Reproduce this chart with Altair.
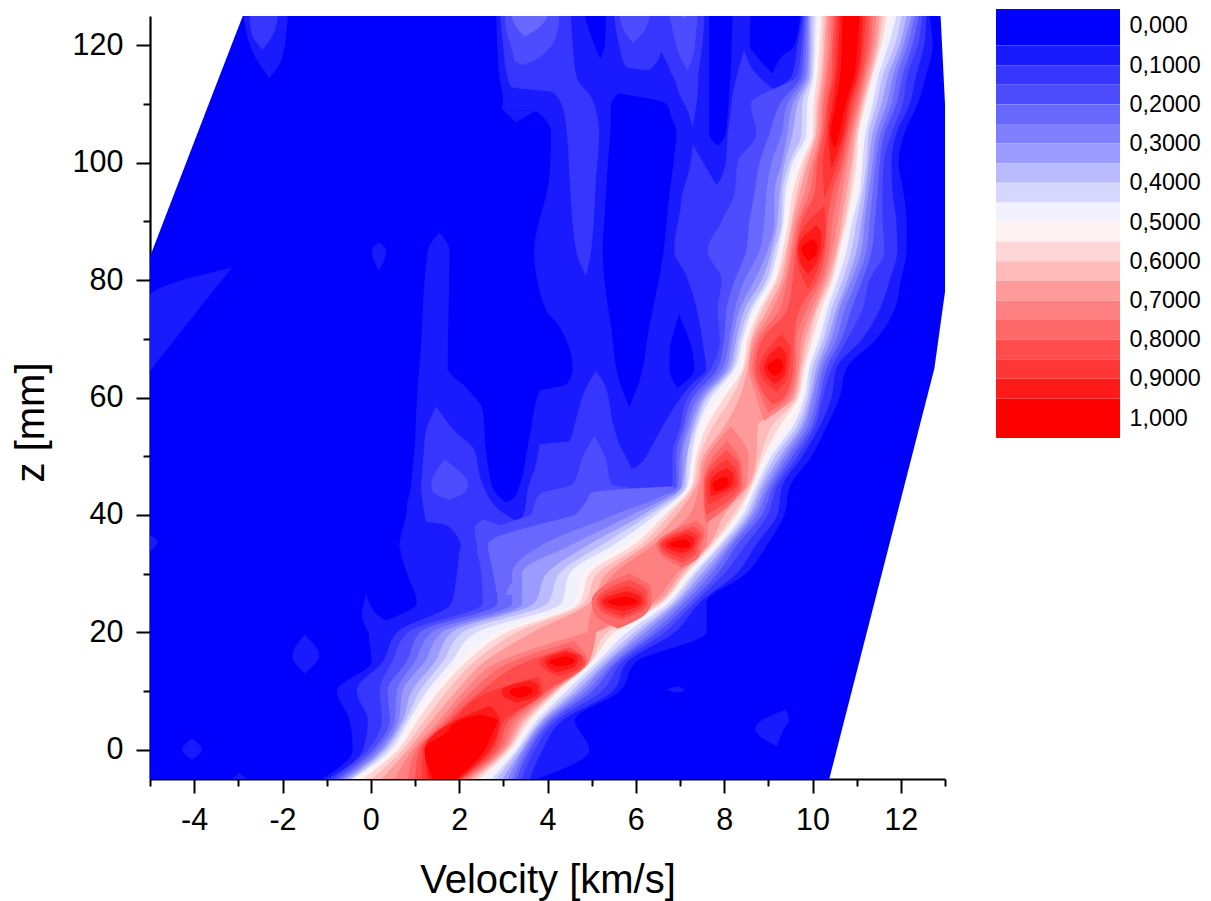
import altair as alt
import pandas as pd

FONT = "Liberation Sans"
COLORS = ["#0000ff", "#1a1aff", "#3636ff", "#4d4dff", "#6868ff", "#8080ff", "#9a9aff", "#babaff",
          "#d6d6ff", "#f2f2ff", "#fff2f2", "#ffd6d6", "#ffbaba", "#ff9a9a", "#ff8080", "#ff6868",
          "#ff4d4d", "#ff3636", "#ff1a1a", "#ff0000"]
LEGEND_EDGES = [-0.0434, 0.05, 0.10, 0.15, 0.20, 0.25, 0.30, 0.35, 0.40, 0.45, 0.50,
                0.55, 0.60, 0.65, 0.70, 0.75, 0.80, 0.85, 0.90, 0.95, 1.051]
LEGEND_DOMAIN = [-0.0255, 1.051]

# measured outline of the data domain: z, lower velocity, upper velocity
DOMAIN_Z = [-5, 65, 78, 84, 110, 125]
DOMAIN_LO = [-5, -5, -5, -5, -3.67, -2.9]
DOMAIN_HI = [10.38, 12.76, 13, 13, 13, 12.9]

# z rows of the ridge contours
Z_ROWS = [-5, 0, 5, 10, 15, 20, 25, 30, 35, 40, 45, 50, 55, 60, 65, 70, 75, 80, 85, 90, 95, 100, 105, 110, 115, 120, 125]

# contour velocity on the low side of the ridge; key = contour level index (level = index * 0.05)
RIDGE_LOW = {
 3: [-.86,-.07,.25,.2,.48,.84,2.53,2.5,2.4,3.64,6.83,6.83,7.0,7.17,7.71,7.9,7.85,7.94,7.62,7.94,8.24,8.3,8.73,8.6,9.66,9.75,9.8],
 4: [-.75,.05,.43,.38,.81,1.11,2.87,2.77,2.65,4.61,6.92,6.92,7.08,7.29,7.85,8.0,8.05,8.24,8.5,8.57,8.69,8.8,9.03,9.26,9.75,9.8,9.84],
 5: [-.66,.14,.54,.59,1.0,1.38,3.2,3.2,3.9,5.5,6.97,7.0,7.15,7.4,7.96,8.12,8.24,8.46,8.8,8.91,8.96,9.07,9.3,9.43,9.82,9.86,9.89],
 6: [-.59,.23,.63,.72,1.22,1.61,3.43,3.42,4.57,5.9,7.04,7.06,7.22,7.49,8.05,8.19,8.35,8.69,8.98,9.14,9.14,9.3,9.43,9.55,9.88,9.91,9.91],
 7: [-.52,.29,.72,.93,1.45,1.83,3.7,3.98,4.95,6.15,7.06,7.15,7.29,7.56,8.12,8.28,8.46,8.85,9.07,9.21,9.26,9.37,9.55,9.66,9.93,9.95,9.95],
 8: [-.43,.36,.79,1.11,1.63,2.08,4.0,4.27,5.25,6.3,7.13,7.17,7.35,7.62,8.19,8.35,8.57,8.96,9.14,9.3,9.32,9.48,9.75,9.77,9.98,10.0,10.0],
 9: [-.41,.45,.86,1.27,1.83,2.4,4.32,4.5,5.52,6.45,7.17,7.26,7.4,7.71,8.24,8.42,8.64,9.03,9.21,9.34,9.39,9.55,9.86,9.88,10.02,10.05,10.07],
 10: [-.32,.52,.95,1.40,2.01,2.85,4.62,4.8,5.79,6.6,7.22,7.3,7.49,7.85,8.35,8.46,8.73,9.1,9.28,9.4,9.46,9.66,9.98,9.98,10.07,10.09,10.14],
 11: [-.18,.61,1.06,1.55,2.17,3.07,4.72,4.95,5.97,6.65,7.26,7.37,7.6,8.0,8.42,8.53,8.8,9.16,9.32,9.45,9.55,9.75,10.0,10.02,10.11,10.16,10.2],
 12: [.02,.72,1.22,1.73,2.35,3.3,4.83,5.13,6.13,6.76,7.3,7.44,7.74,8.17,8.46,8.6,8.87,9.21,9.39,9.52,9.64,9.82,10.05,10.09,10.18,10.23,10.25],
 13: [.25,.84,1.38,1.94,2.58,3.66,4.95,5.33,6.27,6.92,7.37,7.53,8.0,8.35,8.53,8.64,8.98,9.3,9.43,9.55,9.71,9.89,10.09,10.14,10.23,10.27,10.31],
}
# contour velocity on the high side of the ridge
RIDGE_HIGH = {
 1: [3.76,4.95,4.62,5.64,6.02,7.6,7.6,8.5,8.98,9.36,9.5,9.98,10.32,10.61,10.77,11.45,11.86,12.0,12.13,12.13,12.06,11.95,12.08,12.38,12.58,12.72,12.65],
 2: [3.6,3.89,4.34,5.48,5.82,6.88,7.44,8.28,8.73,9.2,9.32,9.77,10.16,10.43,10.54,11.13,11.52,11.75,11.92,11.9,11.81,11.79,11.9,12.2,12.35,12.53,12.58],
 3: [3.42,3.71,4.21,5.23,5.7,6.65,7.33,8.0,8.5,8.98,9.21,9.66,10.05,10.23,10.43,10.79,11.13,11.29,11.63,11.59,11.59,11.61,11.79,12.04,12.15,12.38,12.49],
 4: [3.3,3.6,4.1,5.02,5.59,6.49,7.22,7.85,8.3,8.85,9.12,9.55,9.98,10.16,10.32,10.66,10.88,11.13,11.34,11.41,11.47,11.52,11.63,11.9,12.04,12.26,12.4],
 5: [3.21,3.53,4.03,4.89,5.52,6.36,7.1,7.71,8.19,8.73,9.03,9.45,9.89,10.09,10.23,10.54,10.73,11.0,11.22,11.29,11.36,11.43,11.54,11.79,11.92,12.15,12.31],
 6: [3.1,3.46,3.96,4.77,5.41,6.22,6.99,7.6,8.12,8.64,8.96,9.36,9.8,10.0,10.16,10.43,10.61,10.88,11.11,11.18,11.27,11.36,11.45,11.68,11.83,12.06,12.24],
 7: [2.98,3.42,3.89,4.66,5.34,6.09,6.9,7.49,8.05,8.57,8.87,9.27,9.73,9.95,10.09,10.34,10.54,10.79,11.0,11.11,11.2,11.27,11.36,11.56,11.72,11.97,12.13],
 8: [2.84,3.35,3.84,4.55,5.23,5.97,6.83,7.37,7.96,8.5,8.8,9.16,9.64,9.89,10.0,10.25,10.43,10.68,10.88,11.0,11.13,11.22,11.27,11.45,11.6,11.86,12.02],
 9: [2.73,3.3,3.76,4.43,5.14,5.81,6.74,7.3,7.9,8.42,8.73,9.07,9.55,9.82,9.93,10.16,10.34,10.57,10.77,10.9,11.07,11.13,11.2,11.36,11.5,11.72,11.9],
 10: [2.53,3.2,3.66,4.31,5.02,5.67,6.64,7.2,7.83,8.35,8.66,8.96,9.43,9.75,9.86,10.09,10.25,10.5,10.66,10.79,11.0,11.07,11.1,11.25,11.4,11.6,11.79],
 11: [2.45,3.16,3.6,4.25,5.0,5.51,6.6,7.15,7.76,8.28,8.64,8.89,9.25,9.68,9.82,10.0,10.2,10.45,10.61,10.77,10.9,11.0,11.04,11.2,11.36,11.56,11.68],
 12: [2.36,3.1,3.53,4.21,4.97,5.36,6.56,7.1,7.71,8.19,8.6,8.82,9.07,9.64,9.77,9.93,10.11,10.41,10.57,10.73,10.84,10.93,11.02,11.16,11.34,11.5,11.59],
 13: [2.29,3.05,3.46,4.16,4.95,5.1,6.47,7.03,7.67,8.0,8.55,8.73,8.76,9.59,9.72,9.84,10.07,10.34,10.54,10.66,10.77,10.88,10.97,11.11,11.29,11.45,11.52],
}

# free contour patches, painted in this order: (level index, [(z, low, high), ...])
PATCHES_05 = [
 (1, [(-5,-1.11,1.7),(0,-.41,2),(5,-.48,2.5),(10,-.77,3.3),(15,.02,4.3),(20,-.05,5),(25,1.04,5.6),(30,.82,6.2),(35,.65,7),(40,.8,7.4),(42,.83,7.6),(42.3,3.12,7.6),(43.5,3.29,7.7),(53.1,3.59,8.4),(61.1,3.82,9),(62.2,4.42,9),(64.8,4.57,9.2),(72.8,4.2,9.5),(74.8,3.97,9.7),(85,3.7,10),(97.5,4.04,10.3),(105,4.08,10.5),(108.8,3.74,10.6),(109,2.97,10.6),(110.6,2.99,10.6),(114.6,2.91,10.7),(125,2.84,10.85)]),
 (1, [(20,-.05,1),(23,-.2,.15),(26.5,-.1,-.1)]),
 (1, [(106.9,3.29,3.29),(108.9,3.0,3.74)]),
 (1, [(41.8,.82,3.12),(44.6,.9,2.76),(48.6,.95,2.65),(51.4,.99,2.6),(57.7,1.03,2.54),(61.7,1.06,2.16),(65,1.1,1.74),(85,1.29,1.78),(88.1,1.55,1.55)]),
 (1, [(13,-1.5,-1.5),(16,-1.77,-1.17),(19.6,-1.5,-1.5)]),
 (1, [(-1.7,-4.05,-4.05),(0,-4.27,-3.83),(1.9,-4.05,-4.05)]),
 (1, [(-5,-3.15,-2.8),(-4,-2.97,-2.97)]),
 (1, [(81.6,.18,.18),(85,.02,.35),(86.4,.18,.18)]),
 (1, [(.5,9.2,9.2),(3.5,8.7,9.35),(5,8.85,9.47),(6.8,9.4,9.4)]),
 (1, [(9.7,6.95,6.95),(10.2,6.72,7.1),(10.8,6.95,6.95)]),
 (1, [(33.8,-5,-5),(35.5,-5,-4.83),(36.5,-5,-5)]),
 (1, [(64.5,-5,-5),(77.2,-5,-3.67),(82.1,-3.15,-3.15)]),
 (1, [(114.4,-2.3,-2.3),(118,-2.62,-2.0),(125,-2.88,-1.88)]),
 (0, [(117.7,5.2,5.2),(120.3,5.05,5.3),(125,4.84,5.32)]),
 (0, [(102.9,7.85,7.85),(105,7.66,8.04),(125,7.66,8.19)]),
 (0, [(115.2,9.1,9.1),(118,8.75,9.3),(120,8.58,9.59),(125,8.6,9.72)]),
 (0, [(58.4,5.85,5.85),(62.8,5.63,6.08),(71.9,5.44,6.3),(85,5.25,6.63),(91.8,5.3,6.72),(103.2,5.4,6.9),(104.9,5.42,6.92),(107.9,5.43,6.8),(110,5.44,6.7),(111.8,5.6,5.6)]),
 (0, [(61.6,6.94,6.94),(64.8,6.76,7.32),(68,6.77,7.28),(71,6.85,7.15),(74.2,6.98,6.98)]),
]
PATCHES_10 = [
 (2, [(-5,-.97,1.7),(0,-.18,2),(5,-.07,2.5),(10,-.32,3.3),(15,.27,4.3),(20,.59,5),(25,1.83,5.6),(30,1.95,6.2),(35,2.04,7),(38,2.2,7.2),(38.5,3.3,7.3),(40,3.45,7.4),(45,3.58,7.9),(47.8,3.75,8),(48,5.98,8),(52,6.38,8.3),(55,6.6,8.5),(62.5,7.29,9),(64.8,7.59,9.2),(69,7.52,9.3),(77.6,7.29,9.8),(81,7.13,9.9),(85,6.87,10),(91.8,7.0,10.2),(96,7.1,10.3),(96.4,7.85,10.3),(100.4,8.04,10.4),(105,8.08,10.5),(108.9,8.15,10.6),(112,8.2,10.6),(112.6,9.1,10.6),(115,9.54,10.8),(120,9.66,10.8),(125,9.77,10.85)]),
 (2, [(35,2.04,2.3),(38.3,1.7,3.4),(38.9,1.25,3.3),(40,1.22,3.06),(44.9,1.14,2.55),(46.9,1.16,2.46),(51,1.2,2.35),(54.3,1.25,1.9),(58.5,1.48,1.48)]),
 (2, [(47.5,3.7,5.93),(51,3.8,5.7),(52,3.82,5.63),(52.6,4.5,5.6),(55,4.6,5.5),(62.2,4.91,5.29),(64.5,5.1,5.1)]),
 (2, [(80.7,4.87,4.87),(85,4.65,4.99),(97.5,4.5,5.1),(104.9,4.44,5.17),(108.9,4.36,5.1),(112,4.12,4.91),(112.9,3.18,4.8),(114.6,3.09,4.66),(120.3,2.99,4.57),(125,2.93,4.53)]),
 (2, [(106,7.29,7.29),(108.9,7.17,7.35),(111.8,6.98,7.4),(115.2,6.8,7.42),(116.3,5.78,7.44),(120.3,5.61,7.51),(125,5.51,7.55)]),
 (1, [(115.1,6.0,6.8),(116,6.34,6.76),(118.9,6.57,6.57)]),
 (2, [(96,7.1,7.85),(99.2,7.22,7.59),(103.2,7.29,7.29)]),
 (2, [(112,8.2,9.2),(115.2,8.3,8.72),(119.2,8.45,8.45)]),
 (2, [(119.2,-2.45,-2.45),(122,-2.7,-2.2),(125,-2.75,-2.11)]),
]
PATCHES_15 = [
 (3, [(40,3.64,6.9),(43.5,3.82,6.9),(45.2,4.57,5.45),(50,4.8,5.3),(53.4,5.06,5.06)]),
 (3, [(35,2.4,3.5),(37.8,2.35,3.06),(39.2,2.54,2.54)]),
 (3, [(42.6,1.78,1.78),(44,1.4,2.15),(45.2,1.37,2.2),(49.4,1.67,1.67)]),
 (3, [(116.6,3.45,3.45),(117.4,3.25,3.7),(119.2,3.2,4.0),(121.4,3.1,4.19),(125,3.03,4.27)]),
 (3, [(120.4,5.93,5.93),(122,5.77,6.15),(125,5.63,6.31)]),
 (3, [(115.8,7.17,7.17),(119,6.95,7.32),(122,6.85,7.36),(125,6.76,7.4)]),
]
PATCHES_20 = [
 (4, [(35,3.89,7),(38.9,4.5,7),(42.3,4.88,7),(43.8,5.0,6.9),(44.9,6.85,6.85)]),
 (4, [(121.5,3.48,3.48),(123,3.3,3.8),(125,3.18,4.0)]),
 (4, [(124.6,7.1,7.1),(125,7.05,7.15)]),
]
# shelf of the contours between z = 26 and z = 44
PATCHES_SHELF = {
 5: [(26.4,3.06,5),(29.2,3.29,5.5),(30.4,3.9,5.8),(34.4,4.57,6.6),(37.8,5.02,7),(40,5.5,7.2),(41.5,6.08,7.3),(43.5,6.68,7.5)],
 6: [(36.1,5.17,7),(38.9,5.78,7.2),(41.2,6.3,7.3),(43.5,6.83,7.5)],
 7: [(35,5.32,7),(37.8,5.85,7.2),(40.6,6.42,7.3),(43.2,6.9,7.5)],
 8: [(34.4,5.48,7),(37.2,6.0,7.2),(40,6.53,7.3),(42.9,6.98,7.5)],
 9: [(34.1,5.63,7),(36.9,6.16,7.2),(39.8,6.6,7.3),(42.9,7.1,7.5)],
}
PATCHES_RED = [
 (14, [(-5,.54,2.2),(0,.95,2.99),(5,1.56,3.37),(10,2.12,4.12),(15,2.91,4.93),(20,4.9,5.1)]),
 (14, [(20,4.9,5.1),(25,5.06,6.37),(30,5.51,6.92),(35,6.42,7.6),(40,7.21,7.67),(45,7.44,8.5),(50,7.62,8.55),(55,8.15,8.15)]),
 (14, [(56,8.9,8.9),(60,8.73,9.52),(65,8.57,9.68),(70,8.71,9.75),(75,9.09,9.98),(80,9.37,10.27),(85,9.5,10.45),(90,9.62,10.57),(95,9.82,10.68),(100,9.98,10.79),(105,10.16,10.9),(110,10.2,11.07),(115,10.29,11.22),(120,10.34,11.38),(125,10.36,11.45)]),
 (15, [(-5,.84,2.15),(0,1.04,2.92),(5,1.67,3.26),(10,2.3,4.05),(15,3.2,4.9),(18.5,4.6,4.6)]),
 (15, [(20.6,5.6,5.6),(23,5.08,6.2),(25.3,5.0,6.36),(27.6,5.21,6.33),(30,5.85,5.85)]),
 (15, [(31,7.06,7.06),(33,6.6,7.44),(35,6.47,7.5),(37,6.76,7.56),(39,7.37,7.37)]),
 (15, [(38.6,7.6,7.6),(41.9,7.53,8.15),(45.2,7.53,8.42),(48.9,7.66,8.38),(52.6,8.07,8.07)]),
 (15, [(57.4,9.0,9.0),(60,8.85,9.43),(65,8.64,9.62),(70,8.78,9.64),(75,9.25,9.86),(80,9.43,10.2),(85,9.55,10.38),(90,9.68,10.45),(95,9.93,10.57),(100,10.05,10.73),(105,10.2,10.86),(110,10.25,11.02),(115,10.34,11.18),(120,10.41,11.32),(125,10.43,11.36)]),
 (16, [(-5,1.0,2.06),(0,1.11,2.85),(5,1.76,3.14),(10,2.5,3.98),(15,3.52,4.86),(17.5,4.5,4.5)]),
 (16, [(22.2,5.65,5.65),(23.7,5.2,6.15),(25.3,5.11,6.27),(27.1,5.3,6.25),(29,5.85,5.85)]),
 (16, [(31.8,7.05,7.05),(33.4,6.62,7.36),(35,6.53,7.42),(36.5,6.75,7.5),(38,7.3,7.3)]),
 (16, [(40,7.6,7.6),(42.6,7.55,8.12),(45.2,7.55,8.37),(48.1,7.68,8.35),(51,8.05,8.05)]),
 (16, [(58.8,9.1,9.1),(60,8.96,9.36),(65,8.71,9.56),(70,8.87,9.58),(75,9.43,9.71),(80,9.55,10.11),(85,9.62,10.29),(90,9.75,10.34),(95,10.05,10.45),(100,10.11,10.66),(105,10.25,10.79),(110,10.32,10.95),(115,10.43,11.13),(120,10.45,11.25),(125,10.5,11.29)]),
 (17, [(-5,1.15,2.05),(0,1.18,2.76),(5,1.85,3.03),(10,2.73,3.89),(12.5,3.8,3.8)]),
 (17, [(12.5,4.25,4.25),(13.7,3.92,4.68),(15,3.82,4.79),(16,3.98,4.76),(17,4.4,4.4)]),
 (17, [(22.7,5.7,5.7),(24,5.28,6.08),(25.3,5.18,6.2),(26.6,5.35,6.15),(27.9,5.8,5.8)]),
 (17, [(32.6,7.05,7.05),(33.8,6.68,7.3),(35,6.58,7.36),(36.2,6.76,7.42),(37.4,7.2,7.2)]),
 (17, [(41.8,7.65,7.65),(43.5,7.6,8.07),(45.2,7.6,8.3),(47.3,7.7,8.28),(49.5,8.05,8.05)]),
 (17, [(61,9.18,9.18),(63.1,8.88,9.42),(65.2,8.8,9.47),(68,8.97,9.5),(70.8,9.3,9.3)]),
 (17, [(78.5,9.9,9.9),(81.9,9.7,10.12),(85.3,9.64,10.25),(89,9.8,10.3),(92.7,10.27,10.27)]),
 (17, [(94,10.27,10.27),(100,10.23,10.57),(105,10.32,10.75),(110,10.36,10.88),(115,10.48,11.07),(120,10.52,11.16),(125,10.54,11.22)]),
 (18, [(-5,1.29,2.0),(0,1.22,2.69),(5,1.92,2.92),(7.5,2.7,2.7)]),
 (18, [(8,3.3,3.3),(9,3.02,3.7),(10,2.96,3.8),(10.9,3.12,3.8),(11.8,3.6,3.6)]),
 (18, [(13.2,4.2,4.2),(14.1,4.0,4.6),(15,3.95,4.68),(15.9,4.08,4.68),(16.7,4.4,4.4)]),
 (18, [(23.6,5.7,5.7),(24.4,5.33,6.03),(25.2,5.25,6.13),(26.1,5.38,6.1),(27,5.8,5.8)]),
 (18, [(33.5,7.05,7.05),(34.2,6.75,7.25),(35,6.67,7.31),(35.9,6.82,7.33),(36.7,7.15,7.15)]),
 (18, [(43.2,7.7,7.7),(44.2,7.68,8.05),(45.2,7.67,8.2),(46.6,7.75,8.22),(48,8.05,8.05)]),
 (18, [(62.3,9.15,9.15),(63.7,8.95,9.36),(65.2,8.9,9.4),(67,9.0,9.42),(68.8,9.25,9.25)]),
 (18, [(81,9.9,9.9),(83.1,9.72,10.1),(85.3,9.68,10.18),(87.3,9.78,10.2),(89.4,10.1,10.1)]),
 (18, [(99,10.43,10.43),(105,10.36,10.7),(110,10.45,10.82),(115,10.54,11.02),(120,10.59,11.11),(125,10.61,11.13)]),
 (19, [(-5,1.40,1.95),(0,1.22,2.58),(3,1.72,2.76),(5,2.0,2.87),(6,2.47,2.47)]),
 (19, [(8.8,3.35,3.35),(9.4,3.18,3.6),(10,3.14,3.66),(10.4,3.22,3.65),(10.9,3.5,3.5)]),
 (19, [(14.2,4.25,4.25),(14.6,4.08,4.55),(15,4.04,4.61),(15.4,4.12,4.6),(15.9,4.4,4.4)]),
 (19, [(24.4,5.7,5.7),(24.8,5.42,5.95),(25.2,5.36,6.04),(25.6,5.45,6.0),(26.1,5.75,5.75)]),
 (19, [(34.3,7.05,7.05),(34.6,6.82,7.2),(35,6.76,7.24),(35.4,6.85,7.22),(35.9,7.1,7.1)]),
 (19, [(44,7.8,7.8),(44.6,7.76,8.02),(45.2,7.73,8.1),(45.9,7.82,8.1),(46.6,8.03,8.03)]),
 (19, [(63.7,9.15,9.15),(64.4,9.02,9.3),(65.2,8.98,9.33),(66,9.05,9.32),(66.7,9.22,9.22)]),
 (19, [(83.3,9.92,9.92),(84.3,9.79,10.07),(85.3,9.75,10.11),(86.2,9.82,10.1),(87,10.02,10.02)]),
 (19, [(102.4,10.5,10.5),(105,10.41,10.61),(110,10.52,10.75),(115,10.63,10.95),(120,10.66,11.02),(125,10.68,11.07)]),
]

X_MAJOR = [-4, -2, 0, 2, 4, 6, 8, 10, 12]
X_MINOR = [-5, -3, -1, 1, 3, 5, 7, 9, 11, 13]
Y_MAJOR = [0, 20, 40, 60, 80, 100, 120]
Y_MINOR = [10, 30, 50, 70, 90, 110]
LEGEND_TICKS = [0, .1, .2, .3, .4, .5, .6, .7, .8, .9, 1]

rows = []
shape_id = [0]


def add(level, triples):
    shape_id[0] += 1
    for z, a, b in triples:
        rows.append({"z": z, "a": a, "b": b, "c": COLORS[level], "s": shape_id[0]})


def ridge(level, low, high):
    add(level, list(zip(Z_ROWS, low, high)))


for lv, tr in PATCHES_05:
    add(lv, tr)
ridge(1, RIDGE_LOW[10], RIDGE_HIGH[1])
for lv, tr in PATCHES_10:
    add(lv, tr)
ridge(2, RIDGE_LOW[10], RIDGE_HIGH[2])
ridge(3, RIDGE_LOW[3], RIDGE_HIGH[3])
for lv, tr in PATCHES_15:
    add(lv, tr)
ridge(4, RIDGE_LOW[4], RIDGE_HIGH[4])
for lv, tr in PATCHES_20:
    add(lv, tr)
for lv in range(5, 14):
    ridge(lv, RIDGE_LOW[lv], RIDGE_HIGH[lv])
    if lv in PATCHES_SHELF:
        add(lv, PATCHES_SHELF[lv])
for lv, tr in PATCHES_RED:
    add(lv, tr)

df = pd.DataFrame(rows)
dom = pd.DataFrame({"z": DOMAIN_Z, "a": DOMAIN_LO, "b": DOMAIN_HI})

xs = alt.Scale(domain=[-5, 13], nice=False, zero=False)
ys = alt.Scale(domain=[-5, 125], nice=False, zero=False)
PLAIN = "'' + datum.value"

x_major = alt.Axis(orient="bottom", values=X_MAJOR, title="Velocity [km/s]", grid=False, domainColor="black",
                   domainWidth=2.2, tickColor="black", tickWidth=2, tickSize=14, labelFont=FONT, labelFontSize=30.5,
                   labelColor="black", labelPadding=12, labelFlush=False, labelOverlap=False, labelExpr=PLAIN,
                   titleFont=FONT, titleFontSize=40, titleFontWeight="normal", titleColor="black", titlePadding=25)
y_major = alt.Axis(orient="left", values=Y_MAJOR, title="z [mm]", grid=False, domainColor="black", domainWidth=2.2,
                   tickColor="black", tickWidth=2, tickSize=14, labelFont=FONT, labelFontSize=30.5, labelColor="black",
                   labelPadding=13, labelFlush=False, labelOverlap=False, labelExpr=PLAIN, titleFont=FONT,
                   titleFontSize=40, titleFontWeight="normal", titleColor="black", titlePadding=21, titleY=406)
x_minor = alt.Axis(orient="bottom", values=X_MINOR, title=None, labels=False, grid=False, domain=False,
                   tickColor="black", tickWidth=2, tickSize=7)
y_minor = alt.Axis(orient="left", values=Y_MINOR, title=None, labels=False, grid=False, domain=False,
                   tickColor="black", tickWidth=2, tickSize=7)

base_domain = alt.Chart(dom).mark_area(orient="horizontal", color=COLORS[0], clip=True).encode(
    y=alt.Y("z:Q", scale=ys, axis=y_major),
    x=alt.X("a:Q", scale=xs, axis=x_major),
    x2="b:Q",
)
contours = alt.Chart(df).mark_area(orient="horizontal", interpolate="monotone", clip=True).encode(
    y=alt.Y("z:Q", scale=ys, axis=None),
    x=alt.X("a:Q", scale=xs, axis=None),
    x2="b:Q",
    color=alt.Color("c:N", scale=None),
    detail="s:N",
)
ticks = alt.Chart(dom).mark_point(opacity=0).encode(
    y=alt.Y("z:Q", scale=ys, axis=y_minor),
    x=alt.X("a:Q", scale=xs, axis=x_minor),
)
plot = alt.layer(base_domain, contours, ticks).resolve_axis(x="independent", y="independent").properties(
    width=795, height=763, title=alt.TitleParams(" ", fontSize=1, offset=2))

leg_df = pd.DataFrame({"lo": LEGEND_EDGES[:-1], "hi": LEGEND_EDGES[1:], "c": COLORS})
LABEL_EXPR = ("datum.value==0?'0,000':datum.value==1?'1,000':replace(format(datum.value,'.4f'),'.',',')")
legend = alt.Chart(leg_df).mark_rect().encode(
    y=alt.Y("lo:Q", scale=alt.Scale(domain=LEGEND_DOMAIN, reverse=True, nice=False, zero=False),
            axis=alt.Axis(orient="right", values=LEGEND_TICKS, title=None, grid=False, domain=False, ticks=False,
                          labelFont=FONT, labelFontSize=23.3, labelColor="black", labelPadding=9, labelFlush=False,
                          labelOverlap=False, labelExpr=LABEL_EXPR)),
    y2="hi:Q",
    x=alt.value(0),
    x2=alt.value(124),
    color=alt.Color("c:N", scale=None),
).properties(width=124, height=422)

chart = alt.hconcat(plot, legend, spacing=50).properties(
    padding={"left": 3, "top": 0, "right": 0, "bottom": 0}
).configure_view(stroke=None)

chart.save("out.html", embed_options={"renderer": "svg", "actions": False})
